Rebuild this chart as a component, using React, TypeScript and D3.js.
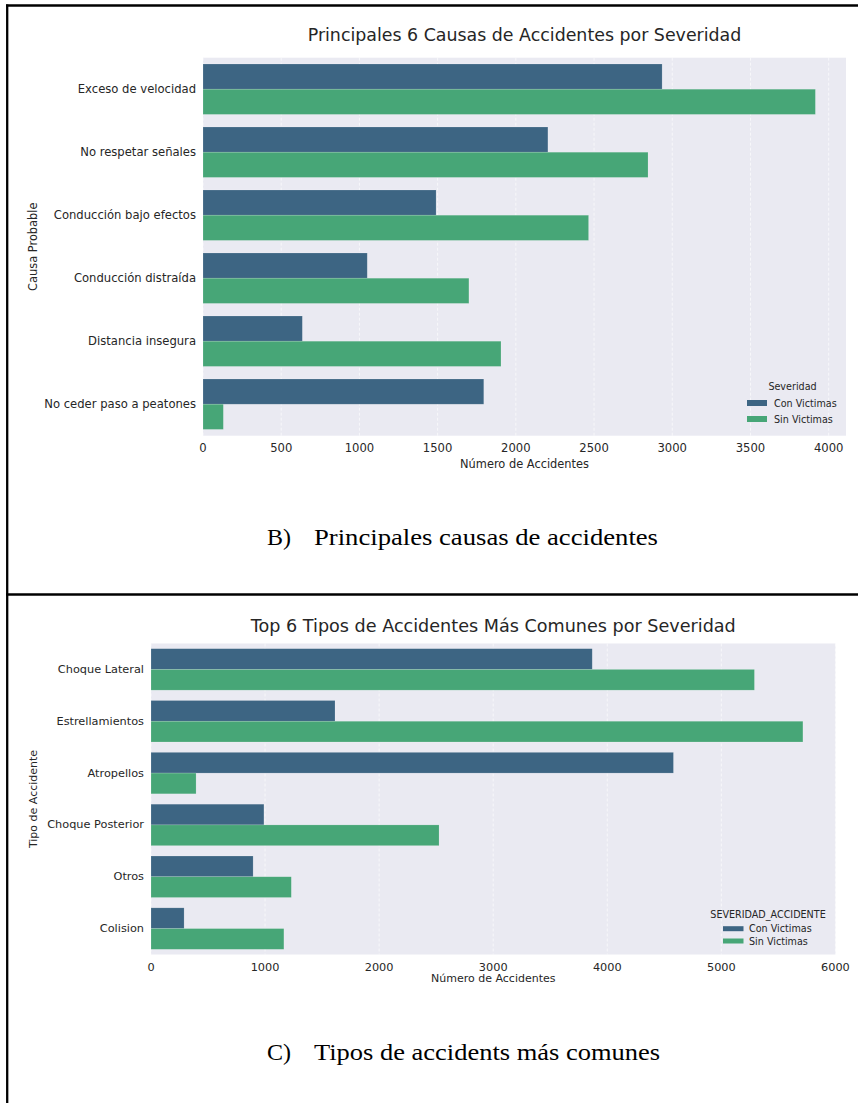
import React from "react";
import * as d3 from "d3";

// Chart B: main causes of accidents, split by severity
const causas = [
  "Exceso de velocidad",
  "No respetar señales",
  "Conducción bajo efectos",
  "Conducción distraída",
  "Distancia insegura",
  "No ceder paso a peatones",
];
const causasConVictimas = [2935, 2205, 1490, 1050, 635, 1795];
const causasSinVictimas = [3915, 2845, 2465, 1700, 1905, 130];
const causasTicks = [0, 500, 1000, 1500, 2000, 2500, 3000, 3500, 4000];

// Chart C: most common accident types, split by severity
const tipos = [
  "Choque Lateral",
  "Estrellamientos",
  "Atropellos",
  "Choque Posterior",
  "Otros",
  "Colision",
];
const tiposConVictimas = [3868, 1613, 4580, 990, 895, 290];
const tiposSinVictimas = [5290, 5715, 395, 2525, 1230, 1165];
const tiposTicks = [0, 1000, 2000, 3000, 4000, 5000, 6000];

const severidades = ["Con Victimas", "Sin Victimas"];
const colores = ["#3d6583", "#47a677"];

const SANS = "DejaVu Sans, sans-serif";
const SERIF = "Liberation Serif, Times New Roman, Times, serif";
const INK = "#262626";

type PanelProps = {
  categories: string[];
  con: number[];
  sin: number[];
  ticks: number[];
  left: number;
  right: number;
  top: number;
  bottom: number;
  title: string;
  titleY: number;
  titleSize: number;
  xLabel: string;
  yLabel: string;
  tickSize: number;
  labelSize: number;
  xTickY: number;
  xLabelY: number;
  yLabelX: number;
  legendTitle: string;
  legendTitleX: number;
  legendTitleY: number;
  legendPatchX: number;
  legendRowY: number[];
  legendPatchW: number;
  legendPatchH: number;
  legendTextX: number;
  legendSize: number;
};

function Panel(p: PanelProps) {
  const maxVal = d3.max([...p.con, ...p.sin]) as number;
  const x = d3
    .scaleLinear()
    .domain([0, maxVal * 1.05])
    .range([p.left, p.right]);
  const y = d3
    .scaleBand<string>()
    .domain(p.categories)
    .range([p.top, p.bottom])
    .paddingInner(0.2)
    .paddingOuter(0.1);
  const hue = d3
    .scaleBand<string>()
    .domain(severidades)
    .range([0, y.bandwidth()]);

  const series = [p.con, p.sin];

  return (
    <g>
      <rect
        x={p.left}
        y={p.top}
        width={p.right - p.left}
        height={p.bottom - p.top}
        fill="#eaeaf2"
      />
      {p.ticks.map((t) => (
        <line
          key={"g" + t}
          x1={x(t)}
          x2={x(t)}
          y1={p.top}
          y2={p.bottom}
          stroke="#ffffff"
          strokeOpacity={0.8}
          strokeWidth={0.8}
          strokeDasharray="3,2"
        />
      ))}
      {p.categories.map((c, i) =>
        severidades.map((s, k) => (
          <rect
            key={c + s}
            x={x(0)}
            y={(y(c) as number) + (hue(s) as number)}
            width={x(series[k][i]) - x(0)}
            height={hue.bandwidth()}
            fill={colores[k]}
            stroke="#ffffff"
            strokeOpacity={0.25}
            strokeWidth={0.6}
          />
        ))
      )}
      <text
        x={(p.left + p.right) / 2}
        y={p.titleY}
        textAnchor="middle"
        fontFamily={SANS}
        fontSize={p.titleSize}
        fill={INK}
      >
        {p.title}
      </text>
      {p.categories.map((c) => (
        <text
          key={"yl" + c}
          x={p.left - 7}
          y={(y(c) as number) + y.bandwidth() / 2}
          textAnchor="end"
          dominantBaseline="central"
          fontFamily={SANS}
          fontSize={p.tickSize}
          fill={INK}
        >
          {c}
        </text>
      ))}
      {p.ticks.map((t) => (
        <text
          key={"xl" + t}
          x={x(t)}
          y={p.xTickY}
          textAnchor="middle"
          dominantBaseline="central"
          fontFamily={SANS}
          fontSize={p.tickSize}
          fill={INK}
        >
          {t}
        </text>
      ))}
      <text
        x={(p.left + p.right) / 2}
        y={p.xLabelY}
        textAnchor="middle"
        dominantBaseline="central"
        fontFamily={SANS}
        fontSize={p.labelSize}
        fill={INK}
      >
        {p.xLabel}
      </text>
      <text
        transform={`translate(${p.yLabelX},${(p.top + p.bottom) / 2}) rotate(-90)`}
        textAnchor="middle"
        dominantBaseline="central"
        fontFamily={SANS}
        fontSize={p.labelSize}
        fill={INK}
      >
        {p.yLabel}
      </text>
      <text
        x={p.legendTitleX}
        y={p.legendTitleY}
        textAnchor="middle"
        dominantBaseline="central"
        fontFamily={SANS}
        fontSize={p.legendSize}
        fill={INK}
      >
        {p.legendTitle}
      </text>
      {severidades.map((s, k) => (
        <g key={"lg" + s}>
          <rect
            x={p.legendPatchX}
            y={p.legendRowY[k] - p.legendPatchH / 2}
            width={p.legendPatchW}
            height={p.legendPatchH}
            fill={colores[k]}
          />
          <text
            x={p.legendTextX}
            y={p.legendRowY[k]}
            dominantBaseline="central"
            fontFamily={SANS}
            fontSize={p.legendSize}
            fill={INK}
          >
            {s}
          </text>
        </g>
      ))}
    </g>
  );
}

function Caption({ letter, text, y, width }: { letter: string; text: string; y: number; width: number }) {
  return (
    <g fontFamily={SERIF} fontSize={24} fill="#000000">
      <text x={267} y={y}>
        {letter}
      </text>
      <text x={314} y={y} textLength={width} lengthAdjust="spacingAndGlyphs">
        {text}
      </text>
    </g>
  );
}

export default function App() {
  return (
    <svg
      width={858}
      height={1103}
      viewBox="0 0 858 1103"
      style={{ position: "absolute", left: 0, top: 0, background: "#ffffff" }}
    >
      <rect x={0} y={0} width={858} height={1103} fill="#ffffff" />

      {/* frame */}
      <line x1={6} y1={5.5} x2={858} y2={5.5} stroke="#000" strokeWidth={2.3} />
      <line x1={7.2} y1={4.4} x2={7.2} y2={1103} stroke="#000" strokeWidth={2.3} />
      <line x1={6} y1={594.5} x2={858} y2={594.5} stroke="#000" strokeWidth={2.3} />

      <Panel
        categories={causas}
        con={causasConVictimas}
        sin={causasSinVictimas}
        ticks={causasTicks}
        left={203}
        right={846}
        top={57.7}
        bottom={435.7}
        title="Principales 6 Causas de Accidentes por Severidad"
        titleY={41}
        titleSize={17.4}
        xLabel="Número de Accidentes"
        yLabel="Causa Probable"
        tickSize={11.6}
        labelSize={11.4}
        xTickY={448}
        xLabelY={464}
        yLabelX={33}
        legendTitle="Severidad"
        legendTitleX={792.5}
        legendTitleY={386.5}
        legendPatchX={747}
        legendRowY={[403, 419]}
        legendPatchW={20}
        legendPatchH={6}
        legendTextX={774}
        legendSize={9.6}
      />

      <Caption letter="B)" text="Principales causas de accidentes" y={545} width={344} />

      <Panel
        categories={tipos}
        con={tiposConVictimas}
        sin={tiposSinVictimas}
        ticks={tiposTicks}
        left={151}
        right={835.5}
        top={643.5}
        bottom={954.5}
        title="Top 6 Tipos de Accidentes Más Comunes por Severidad"
        titleY={632}
        titleSize={17.6}
        xLabel="Número de Accidentes"
        yLabel="Tipo de Accidente"
        tickSize={11.3}
        labelSize={11}
        xTickY={967}
        xLabelY={978}
        yLabelX={33}
        legendTitle="SEVERIDAD_ACCIDENTE"
        legendTitleX={768}
        legendTitleY={914}
        legendPatchX={723}
        legendRowY={[928.7, 941]}
        legendPatchW={20.5}
        legendPatchH={5}
        legendTextX={749}
        legendSize={9.6}
      />

      <Caption letter="C)" text="Tipos de accidents más comunes" y={1060} width={346} />
    </svg>
  );
}
